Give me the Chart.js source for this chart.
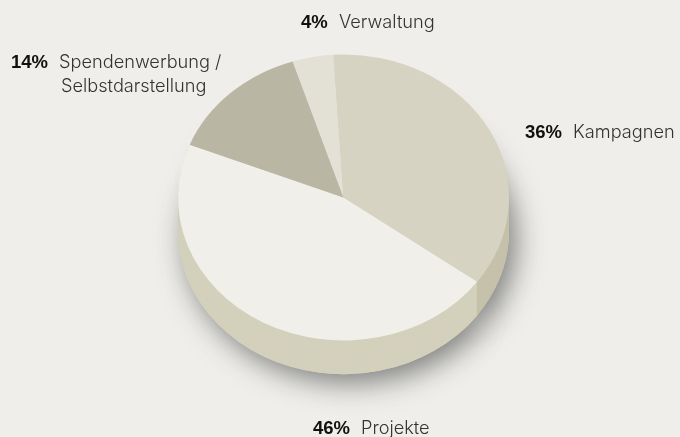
<!DOCTYPE html>
<html>
<head>
<meta charset="utf-8">
<script src="https://cdn.jsdelivr.net/npm/chart.js@4/dist/chart.umd.min.js"></script>
<style>
    html, body { margin: 0; padding: 0; background: #efeeea; overflow: hidden; }
    canvas { display: block; }
</style>
</head>
<body>
<canvas id="pie" width="680" height="437"></canvas>
<script>
const categories = ['Kampagnen', 'Projekte', 'Spendenwerbung /', 'Verwaltung'];
const shares = [36, 46, 14, 4];
const sliceColors = ['#d6d3c2', '#f0efea', '#b9b7a4', '#e3e1d5'];
const sideColors = ['#c5c1aa', '#d3d0bc', '#d3d0bc', '#d3d0bc'];

const squash = 0.864;   // top ellipse, height / width
const depth = 39;       // before squash, comes out around 34px

// pct x, name x, baseline
const labelSpots = [[525, 573, 138], [313, 361, 434], [11, 59, 68], [301, 339, 28]];
const bodyFont = '300 18.2px Inter';
const boldFont = 'bold 18.5px "Liberation Sans"';

const drawSide = (chart, withShadow) => {
    const ctx = chart.ctx;
    const arcs = chart.getDatasetMeta(0).data;
    const from = withShadow ? depth : 1;
    for (let d = depth; d >= from; d--) {
        ctx.save();
        ctx.translate(0, d);
        if (withShadow) {
            ctx.shadowColor = 'rgba(60, 62, 62, 0.62)';
            ctx.shadowBlur = 28;
            ctx.shadowOffsetX = 7;
            ctx.shadowOffsetY = 9;
        }
        arcs.forEach((arc, i) => {
            const top = arc.options.backgroundColor;
            arc.options.backgroundColor = sideColors[i];
            arc.draw(ctx);
            arc.options.backgroundColor = top;
        });
        ctx.restore();
    }
};

const tiltPlugin = {
    id: 'tilt',
    beforeDatasetsDraw(chart) {
        const ctx = chart.ctx;
        const { x, y } = chart.getDatasetMeta(0).data[0];
        ctx.save();
        ctx.translate(x, y);
        ctx.scale(1, squash);
        ctx.translate(-x, -y);
        // shadow pass first, then the wall on top of it
        drawSide(chart, true);
        drawSide(chart, false);
    },
    afterDatasetsDraw(chart) {
        chart.ctx.restore();
    }
};

const labelPlugin = {
    id: 'sliceLabels',
    afterDraw(chart) {
        const ctx = chart.ctx;
        ctx.save();
        ctx.textBaseline = 'alphabetic';
        categories.forEach((name, i) => {
            const [pctX, nameX, base] = labelSpots[i];
            ctx.fillStyle = '#111111';
            ctx.font = boldFont;
            ctx.fillText(shares[i] + '%', pctX, base);
            ctx.fillStyle = '#333331';
            ctx.font = bodyFont;
            ctx.fillText(name, nameX, base);
        });
        ctx.fillText('Selbstdarstellung', 61, 92);
        ctx.restore();
    }
};

new Chart(document.getElementById('pie'), {
    type: 'pie',
    data: {
        labels: categories,
        datasets: [{
            data: shares,
            backgroundColor: sliceColors,
            borderWidth: 0,
            clip: false
        }]
    },
    options: {
        responsive: false,
        animation: false,
        rotation: -3.5,
        radius: 165.5,
        layout: { padding: { left: 7, bottom: 42 } },
        plugins: { legend: { display: false }, tooltip: { enabled: false } }
    },
    plugins: [tiltPlugin, labelPlugin]
});
</script>
</body>
</html>
